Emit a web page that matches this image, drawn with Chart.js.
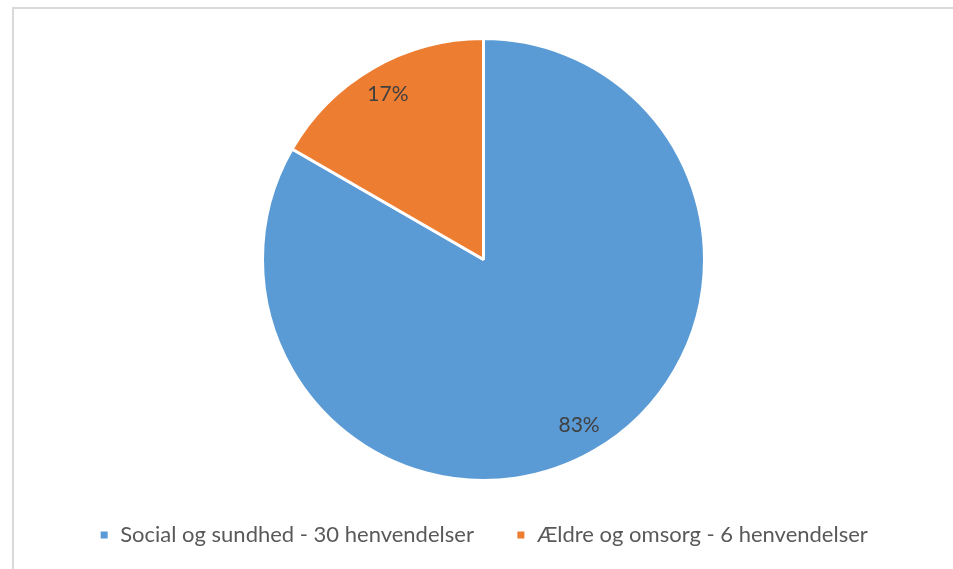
<!DOCTYPE html>
<html>
<head>
<meta charset="utf-8">
<script src="https://cdn.jsdelivr.net/npm/chart.js@4"></script>
<style>
  html, body { margin: 0; padding: 0; background: #fff; }
  body { width: 953px; height: 569px; position: relative; overflow: hidden; }
  .frame { position: absolute; left: 12px; top: 7px; width: 1000px; height: 600px;
           border-left: 2px solid #d9d9d9; border-top: 2px solid #d9d9d9; }
  #chart { position: absolute; left: 0; top: 0; }
</style>
</head>
<body>
<div class="frame"></div>
<canvas id="chart" width="953" height="569"></canvas>
<script>
const categories = ['Social og sundhed - 30 henvendelser', 'Ældre og omsorg - 6 henvendelser'];
const henvendelser = [30, 6];
const sliceColors = ['#5B9BD5', '#ED7D31'];

// percentage labels inside each slice
const pctLabels = {
  id: 'pctLabels',
  afterDatasetsDraw(chart) {
    const ctx = chart.ctx;
    const meta = chart.getDatasetMeta(0);
    const data = chart.data.datasets[0].data;
    const total = data.reduce((a, b) => a + b, 0);
    ctx.save();
    ctx.font = '21px Lato, "Open Sans", sans-serif';
    ctx.fillStyle = '#404040';
    ctx.textAlign = 'center';
    ctx.textBaseline = 'middle';
    meta.data.forEach((arc, i) => {
      const p = arc.getProps(['x', 'y', 'startAngle', 'endAngle', 'outerRadius'], true);
      const mid = (p.startAngle + p.endAngle) / 2;
      const r = p.outerRadius * 0.865;
      const pct = Math.round(data[i] / total * 100) + '%';
      ctx.fillText(pct, p.x + Math.cos(mid) * r, p.y + Math.sin(mid) * r);
    });
    ctx.restore();
  }
};

new Chart(document.getElementById('chart'), {
  type: 'pie',
  data: {
    labels: categories,
    datasets: [{
      data: henvendelser,
      backgroundColor: sliceColors,
      borderColor: '#ffffff',
      borderWidth: 3
    }]
  },
  options: {
    responsive: false,
    animation: false,
    layout: { padding: { top: 37, left: 14, right: 0, bottom: 13 } },
    plugins: {
      legend: {
        position: 'bottom',
        labels: {
          boxWidth: 10,
          boxHeight: 10,
          padding: 42,
          color: '#595959',
          font: { family: 'Lato, "Open Sans", sans-serif', size: 22 }
        }
      },
      tooltip: { enabled: false }
    }
  },
  plugins: [pctLabels]
});
</script>
</body>
</html>
